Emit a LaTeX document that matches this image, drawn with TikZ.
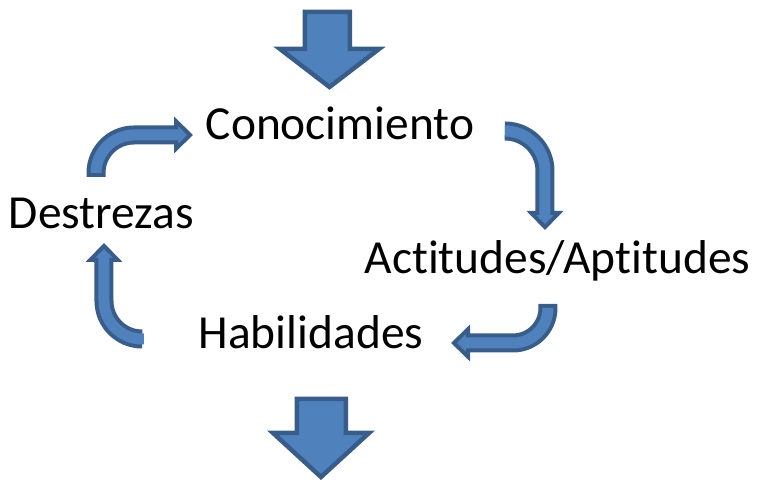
\documentclass[tikz,border=0pt]{standalone}
\usepackage{fontspec}
\setmainfont{Carlito}[Ligatures=NoCommon]
\usetikzlibrary{arrows.meta, calc}
\definecolor{arrowfill}{RGB}{79,129,189}
\definecolor{arrowline}{RGB}{56,93,138}

\begin{document}
\begin{tikzpicture}[
    word/.style={inner sep=0pt, anchor=base, font=\fontsize{13.5}{16}\selectfont},
    bigarrow/.style={draw=arrowline, fill=arrowfill, line width=0.045cm, line join=miter},
    bentouter/.style={arrowline, line width=0.19cm, rounded corners=#1, -{Triangle[length=0.19cm, width=0.36cm, line width=0.04cm, fill=arrowfill]}},
    bentinner/.style={arrowfill, line width=0.11cm, rounded corners=#1, shorten <=0.04cm, shorten >=0.11cm}
]
\useasboundingbox (0,0) rectangle (7.58,-4.83);

% Cycle words
\node[word] (con) at (3.40,-1.40) {Conocimiento};
\node[word] (act) at (5.575,-2.74) {Actitudes/Aptitudes};
\node[word] (hab) at (3.11,-3.49) {Habilidades};
\node[word] (des) at (1.015,-2.29) {Destrezas};

% Ends of the bent arrows
\coordinate (d2c-s) at ($(des.base)+(-0.055,0.52)$);
\coordinate (d2c-e) at ($(con.base west)+(-0.12,0.05)$);
\coordinate (c2a-s) at ($(con.base east)+(0.30,0.09)$);
\coordinate (c2a-e) at ($(act.base)+(-0.125,0.44)$);
\coordinate (a2h-s) at ($(act.base)+(-0.095,-0.30)$);
\coordinate (a2h-e) at ($(hab.base east)+(0.27,0.06)$);
\coordinate (h2d-s) at ($(hab.base west)+(-0.58,0.10)$);
\coordinate (h2d-e) at ($(des.base)+(0.025,-0.14)$);

% Bent arrows round the cycle
\draw[bentouter=0.38cm] (d2c-s) |- (d2c-e);
\draw[bentinner=0.38cm] (d2c-s) |- (d2c-e);
\draw[bentouter=0.40cm] (c2a-s) -| (c2a-e);
\draw[bentinner=0.40cm] (c2a-s) -| (c2a-e);
\draw[bentouter=0.35cm] (a2h-s) |- (a2h-e);
\draw[bentinner=0.35cm] (a2h-s) |- (a2h-e);
\draw[bentouter=0.38cm] (h2d-s) -| (h2d-e);
\draw[bentinner=0.38cm] (h2d-s) -| (h2d-e);

% Big arrows in and out
\draw[bigarrow] (3.05,-0.12) -- (3.50,-0.12) -- (3.50,-0.49) -- (3.79,-0.49)
    -- (3.295,-0.87) -- (2.80,-0.49) -- (3.05,-0.49) -- cycle;
\draw[bigarrow] (2.97,-3.99) -- (3.46,-3.99) -- (3.46,-4.33) -- (3.69,-4.33)
    -- (3.21,-4.77) -- (2.73,-4.33) -- (2.97,-4.33) -- cycle;

\end{tikzpicture}
\end{document}
